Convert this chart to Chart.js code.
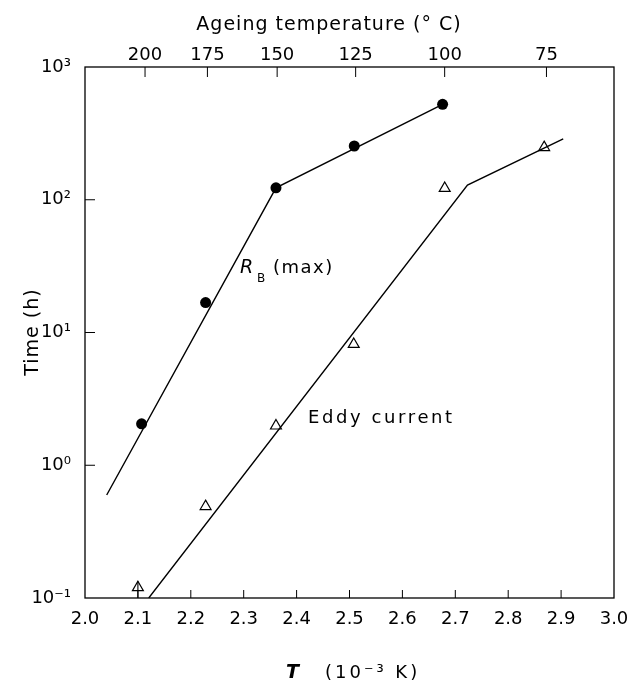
<!DOCTYPE html>
<html lang="en">
<head>
    <meta charset="UTF-8">
    <title>Ageing time vs 1/T</title>
    <script src="https://cdn.jsdelivr.net/npm/chart.js"></script>
    <style>
        body {
            margin: 0;
            padding: 0;
            background: #fff;
        }
        canvas {
            display: block;
        }
    </style>
</head>
<body>
<canvas id="chart" width="629" height="682"></canvas>

<script>
// measured points, x in 10^-3 K^-1, y in hours
const rbX = [2.107, 2.228, 2.361, 2.509, 2.676];
const rbY = [2.05, 16.8, 123, 254, 523];

const eddyX = [2.100, 2.228, 2.361, 2.508, 2.680, 2.868];
const eddyY = [0.12, 0.49, 1.98, 8.15, 122, 248];

// fitted straight lines drawn on the figure
const rbLineX = [2.041, 2.361, 2.676];
const rbLineY = [0.597, 123, 523];

const eddyLineX = [2.1205, 2.723, 2.904];
const eddyLineY = [0.1, 129, 287];

// the lowest eddy point has a line down to the axis
const eddyLimitX = [2.100, 2.100];
const eddyLimitY = [0.134, 0.1];

// axes
const xTicks = [2.0, 2.1, 2.2, 2.3, 2.4, 2.5, 2.6, 2.7, 2.8, 2.9, 3.0];
const xTickLabels = ["2.0", "2.1", "2.2", "2.3", "2.4", "2.5", "2.6", "2.7", "2.8", "2.9", "3.0"];
const topTemps = [200, 175, 150, 125, 100, 75];
const yTicks = [0.1, 1, 10, 100, 1000];
const yTickLabels = ["10\u207B\u00B9", "10\u2070", "10\u00B9", "10\u00B2", "10\u00B3"];

function pts(xs, ys) {
    return xs.map((x, i) => ({ x: x, y: ys[i] }));
}

const FONT = "DejaVu Sans";

// fixed box for each axis, no extra room for overhanging labels
function fixBox(w, h) {
    return s => {
        if (w !== null) s.width = w;
        if (h !== null) s.height = h;
        s.paddingLeft = 0;
        s.paddingRight = 0;
        s.paddingTop = 0;
        s.paddingBottom = 0;
    };
}

// frame, inward ticks and the free texts
const framePlugin = {
    id: "frame",
    afterDraw(chart) {
        const ctx = chart.ctx;
        const a = chart.chartArea;
        const sx = chart.scales.x, sx2 = chart.scales.x2, sy = chart.scales.y;
        ctx.save();
        ctx.strokeStyle = "#000";
        ctx.lineWidth = 1.3;
        ctx.strokeRect(a.left, a.top, a.right - a.left, a.bottom - a.top);

        ctx.lineWidth = 1;
        ctx.beginPath();
        sx.ticks.forEach(t => {
            const px = sx.getPixelForValue(t.value);
            if (px > a.left + 2 && px < a.right - 2) {
                ctx.moveTo(px, a.bottom);
                ctx.lineTo(px, a.bottom - 8);
            }
        });
        sx2.ticks.forEach(t => {
            const px = sx2.getPixelForValue(t.value);
            ctx.moveTo(px, a.top);
            ctx.lineTo(px, a.top + 10);
        });
        sy.ticks.forEach(t => {
            const py = sy.getPixelForValue(t.value);
            if (py > a.top + 2 && py < a.bottom - 2) {
                ctx.moveTo(a.left, py);
                ctx.lineTo(a.left + 10, py);
            }
        });
        ctx.stroke();

        ctx.fillStyle = "#000";
        ctx.textBaseline = "alphabetic";

        // top title
        ctx.letterSpacing = "1px";
        ctx.textAlign = "center";
        ctx.font = "19px " + FONT;
        ctx.fillText("Ageing temperature (\u00B0 C)", 329, 30);

        // bottom title
        ctx.textAlign = "left";
        ctx.letterSpacing = "0px";
        ctx.font = "bold italic 19px " + FONT;
        ctx.fillText("T", 286, 678);
        ctx.letterSpacing = "3px";
        ctx.font = "18px " + FONT;
        ctx.fillText("(10\u207B\u00B3 K)", 325, 678);

        // curve labels
        ctx.letterSpacing = "0px";
        ctx.font = "italic 19px " + FONT;
        ctx.fillText("R", 240, 273);
        ctx.font = "12px " + FONT;
        ctx.fillText("B", 257, 282);
        ctx.letterSpacing = "1.5px";
        ctx.font = "18px " + FONT;
        ctx.fillText("(max)", 273, 273);

        ctx.letterSpacing = "2.6px";
        ctx.fillText("Eddy current", 308, 423);

        // y title
        ctx.letterSpacing = "1px";
        ctx.translate(33, 332);
        ctx.rotate(-Math.PI / 2);
        ctx.textAlign = "center";
        ctx.textBaseline = "middle";
        ctx.font = "19px " + FONT;
        ctx.fillText("Time (h)", 0, 0);
        ctx.restore();
    }
};

const tickFont = { family: FONT, size: 18 };

new Chart(document.getElementById("chart"), {
    type: "scatter",
    data: {
        datasets: [
            {
                label: "R_B (max)",
                data: pts(rbX, rbY),
                pointStyle: "circle",
                pointRadius: 5.5,
                backgroundColor: "#000",
                borderColor: "#000",
                borderWidth: 0
            },
            {
                label: "Eddy current",
                data: pts(eddyX, eddyY),
                pointStyle: "triangle",
                pointRadius: 6.3,
                backgroundColor: "rgba(0,0,0,0)",
                borderColor: "#000",
                borderWidth: 1.2
            },
            {
                label: "R_B fit",
                data: pts(rbLineX, rbLineY),
                showLine: true,
                pointRadius: 0,
                borderColor: "#000",
                borderWidth: 1.4
            },
            {
                label: "Eddy fit",
                data: pts(eddyLineX, eddyLineY),
                showLine: true,
                pointRadius: 0,
                borderColor: "#000",
                borderWidth: 1.4
            },
            {
                label: "limit",
                data: pts(eddyLimitX, eddyLimitY),
                showLine: true,
                pointRadius: 0,
                borderColor: "#000",
                borderWidth: 1.1
            }
        ]
    },
    options: {
        responsive: false,
        animation: false,
        layout: { padding: { right: 15 } },
        plugins: {
            legend: { display: false },
            tooltip: { enabled: false }
        },
        scales: {
            x: {
                type: "linear",
                position: "bottom",
                min: 2.0,
                max: 3.0,
                afterBuildTicks: s => { s.ticks = xTicks.map(v => ({ value: v })); },
                afterFit: fixBox(null, 84),
                grid: { display: false, drawTicks: false },
                border: { display: false },
                ticks: {
                    autoSkip: false,
                    maxRotation: 0,
                    padding: 11,
                    color: "#000",
                    font: tickFont,
                    callback: (v, i) => xTickLabels[i]
                }
            },
            x2: {
                type: "linear",
                position: "top",
                min: 2.0,
                max: 3.0,
                afterBuildTicks: s => { s.ticks = topTemps.map(t => ({ value: 1000 / (t + 273.15) })); },
                afterFit: fixBox(null, 67),
                grid: { display: false, drawTicks: false },
                border: { display: false },
                ticks: {
                    autoSkip: false,
                    maxRotation: 0,
                    padding: 1,
                    color: "#000",
                    font: tickFont,
                    callback: (v, i) => String(topTemps[i])
                }
            },
            y: {
                type: "logarithmic",
                position: "left",
                min: 0.1,
                max: 1000,
                afterBuildTicks: s => { s.ticks = yTicks.map(v => ({ value: v })); },
                afterFit: fixBox(85, null),
                grid: { display: false, drawTicks: false },
                border: { display: false },
                ticks: {
                    autoSkip: false,
                    padding: 14,
                    color: "#000",
                    font: tickFont,
                    callback: (v, i) => yTickLabels[i]
                }
            }
        }
    },
    plugins: [framePlugin]
});
</script>
</body>
</html>
